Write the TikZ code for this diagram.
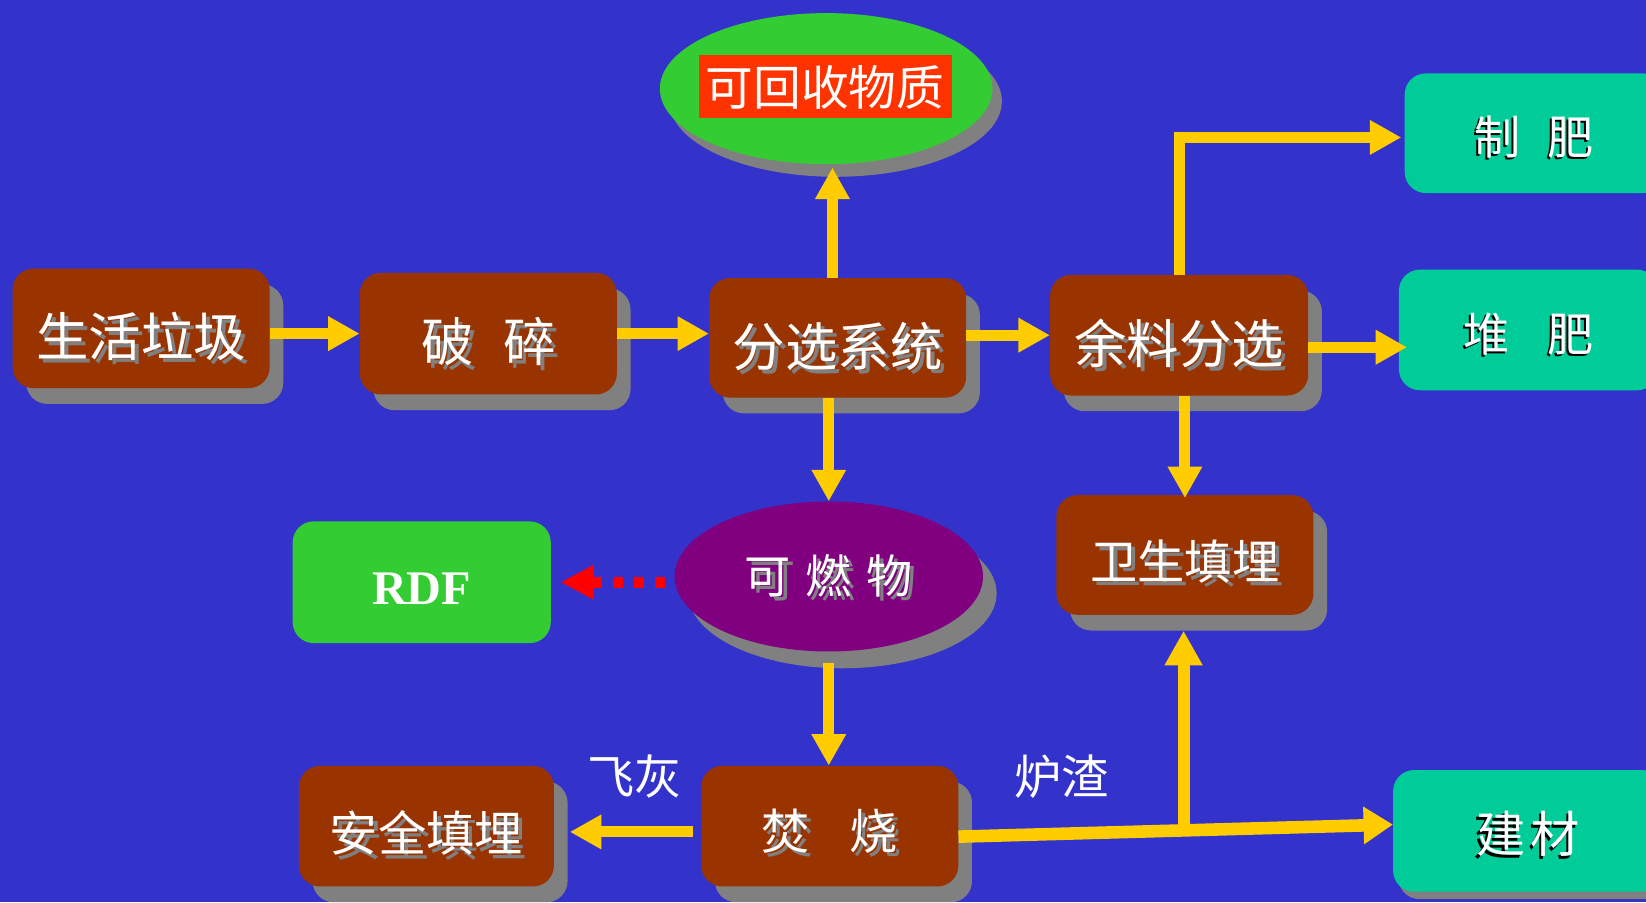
\documentclass[tikz,border=0pt]{standalone}
\usepackage{fontspec}
\setmainfont{Liberation Serif}
\newfontfamily\cjk{Noto Sans CJK SC}
\usetikzlibrary{arrows.meta,shapes.geometric,shadows,calc}
\definecolor{bgblue}{HTML}{3333CC}
\definecolor{boxbrown}{HTML}{993300}
\definecolor{shgray}{HTML}{808080}
\definecolor{arrowyellow}{HTML}{FFCC00}
\definecolor{arrowred}{HTML}{FF0000}
\definecolor{recgreen}{HTML}{33CC33}
\definecolor{tealbox}{HTML}{00CC99}
\definecolor{purplefill}{HTML}{800080}
\definecolor{redlabel}{HTML}{FF3300}
\newcommand\sht[1]{\rlap{\kern4pt\raisebox{-4pt}{\color{shgray}#1}}#1}
\newcommand\shk[1]{\rlap{\kern-2pt\raisebox{-2pt}{\color{black}#1}}#1}
\begin{document}
\begin{tikzpicture}[x=1pt,y=-1pt,
  bbox/.style={rounded corners=20pt, fill=boxbrown, minimum width=245pt, minimum height=114pt,
    inner sep=0pt, text=white, font=\cjk\fontsize{50pt}{60pt}\selectfont,
    text height=54pt, text depth=0pt,
    drop shadow={opacity=1, fill=shgray, shadow xshift=13pt, shadow yshift=-15pt}},
  tbox/.style={rounded corners=20pt, fill=tealbox, minimum width=247pt, minimum height=114pt,
    inner sep=0pt, text=white, font=\cjk\fontsize{44pt}{54pt}\selectfont,
    text height=41pt, text depth=0pt},
  lbl/.style={inner sep=0pt, text=white, font=\cjk\fontsize{45pt}{54pt}\selectfont,
    text height=34pt, text depth=0pt},
  yarr/.style={draw=arrowyellow, line width=10.5pt, -{Triangle[length=30pt,width=31pt]}},
  rarr/.style={draw=arrowred, line width=10.5pt, dash pattern=on 9.5pt off 10.5pt,
    -{Triangle[length=32pt,width=31pt]}}
]
\fill[bgblue] (0,0) rectangle (1569,860);
\useasboundingbox (0,0) rectangle (1569,860);
\clip (0,0) rectangle (1569,860);

% ellipses
\node[ellipse, fill=recgreen, minimum width=317pt, minimum height=144pt, inner sep=0pt,
  drop shadow={opacity=1, fill=shgray, shadow xshift=9pt, shadow yshift=-12pt}] (rec) at (787.5,84.5) {};
\node[fill=redlabel, minimum width=241pt, minimum height=60pt, inner sep=0pt, text=white,
  font=\cjk\fontsize{45.5pt}{54pt}\selectfont, text height=38pt, text depth=0pt] (recl) at (786.5,82) {可回收物质};
\node[ellipse, fill=purplefill, minimum width=294pt, minimum height=143pt, inner sep=0pt,
  drop shadow={opacity=1, fill=shgray, shadow xshift=13pt, shadow yshift=-16pt},
  text=white, font=\cjk\fontsize{44pt}{54pt}\selectfont, text height=33pt, text depth=0pt]
  (comb) at (790,549.5) {\sht{可\hspace{14pt}燃\hspace{14pt}物}};

% brown boxes
\node[bbox] (n1) at (134.5,313) {\sht{生活垃圾}};
\node[bbox, minimum height=116pt] (n2) at (465.5,318) {\sht{破\hspace{28pt}碎}};
\node[bbox] (n3) at (798.5,322) {\sht{分选系统}};
\node[bbox, minimum width=246pt, minimum height=115pt] (n4) at (1124,319.5) {\sht{余料分选}};
\node[bbox, font=\cjk\fontsize{45pt}{54pt}\selectfont, text height=46pt] (n5) at (1129.5,529) {\sht{卫生填埋}};
\node[bbox, minimum height=115pt, font=\cjk\fontsize{46pt}{54pt}\selectfont, text height=45pt] (n6) at (791,787.5) {\sht{焚\hspace{38pt}烧}};
\node[bbox, minimum width=243pt, minimum height=115pt, font=\cjk\fontsize{46pt}{54pt}\selectfont, text height=49pt] (n7) at (406.5,787.5) {\sht{安全填埋}};

% green / teal boxes
\node[rounded corners=20pt, fill=recgreen, minimum width=246pt, minimum height=116pt, inner sep=0pt,
  text=white, font=\bfseries\fontsize{46pt}{50pt}\selectfont, text height=42pt, text depth=0pt]
  (rdf) at (402,555) {RDF};
\node[tbox] (zhifei) at (1462.5,127) {\shk{制\hspace{26pt}肥}};
\node[tbox, minimum height=115pt] (duifei) at (1457,314.5) {\shk{堆\hspace{36pt}肥}};
\node[tbox, minimum width=257pt, minimum height=116pt, font=\cjk\fontsize{47pt}{54pt}\selectfont, text height=42pt,
  drop shadow={opacity=1, fill=shgray, shadow xshift=5pt, shadow yshift=-7pt}]
  (jiancai) at (1456.5,792) {\shk{建\hspace{5pt}材}};

% labels
\node[lbl] (fh) at (605,740) {飞灰};
\node[lbl] (lz) at (1012,740) {炉渣};

% connectors
\draw[yarr] (n1.east |- n2.west) -- (n2.west);
\draw[yarr] (n2.east) -- (n2.east -| n3.west);
\draw[yarr] (n3.east |- n4.west) -- (n4.west);
\draw[yarr] ($(n3.north)+(-5,0)$) -- ($(n3.north |- rec.south)+(-5,3)$);
\draw[yarr] (n3.south -| comb.north) -- (comb.north);
\draw[yarr] ($(comb.south)+(0,11)$) -- (comb.south |- n6.north);
\draw[rarr] ($(comb.west |- rdf.east)+(-9,0)$) -- ($(rdf.east)+(9,0)$);
\draw[yarr] ($(n6.west)+(-8,5.5)$) -- ($(n7.east)+(15,5.5)$);
\coordinate (zw) at ($(zhifei.west)+(-3,4)$);
\draw[yarr, line join=miter] (n4.north) |- (zw);
\draw[yarr] ($(n4.east)+(0,11.5)$) -- ($(n4.east -| duifei.west)+(8,11.5)$);
\draw[yarr] (n4.south -| n5.north) -- ($(n5.north)+(0,3)$);
\coordinate (s) at ($(n6.east)+(0,10)$);
\coordinate (t) at ($(jiancai.west)+(0,-6)$);
\coordinate (jn) at ($(s)!0.518!(t)$);
\draw[yarr, line width=11.4pt, -{Triangle[length=33pt,width=34pt]}] (jn) -- ($(jn |- n5.south)+(0,15)$);
\draw[yarr, line width=12pt, -{Triangle[length=28pt,width=34pt]}] (s) -- (t);
\end{tikzpicture}
\end{document}
